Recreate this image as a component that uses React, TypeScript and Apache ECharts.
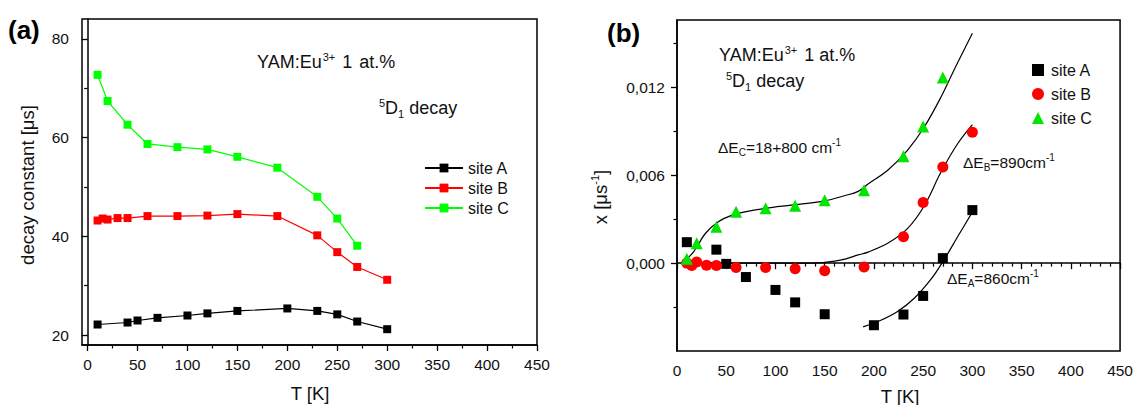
import React, { useEffect, useRef } from 'react';
import * as echarts from 'echarts';

// ---------- Panel (a): decay constants ----------
const tA = [10, 40, 50, 70, 100, 120, 150, 200, 230, 250, 270, 300];
const decayA = [22.15, 22.55, 22.96, 23.5, 23.97, 24.4, 24.9, 25.4, 24.9, 24.2, 22.75, 21.2];
const tB = [10, 15, 20, 30, 40, 60, 90, 120, 150, 190, 230, 250, 270, 300];
const decayB = [43.2, 43.6, 43.4, 43.7, 43.7, 44.1, 44.1, 44.2, 44.5, 44.1, 40.2, 36.8, 33.8, 31.2];
const tC = [10, 20, 40, 60, 90, 120, 150, 190, 230, 250, 270];
const decayC = [72.7, 67.4, 62.6, 58.7, 58.06, 57.6, 56.1, 53.9, 48.0, 43.6, 38.1];

const aXTicks = [0, 50, 100, 150, 200, 250, 300, 350, 400, 450];
const aXMinor = [25, 75, 125, 175, 225, 275, 325, 375, 425];
const aYTicks = [20, 40, 60, 80];
const aYMinor = [30, 50, 70];

// ---------- Panel (b): x values ----------
const xTA = [10, 40, 50, 70, 100, 120, 150, 200, 230, 250, 270, 300];
const xA = [0.00143, 0.00092, -0.00005, -0.00095, -0.00183, -0.00268, -0.00349, -0.00424, -0.00351, -0.00224, 0.00034, 0.00362];
const xTB = [10, 15, 20, 30, 40, 60, 90, 120, 150, 190, 230, 250, 270, 300];
const xB = [0, -0.00016, 0.00007, -0.00014, -0.00016, -0.0003, -0.0003, -0.00039, -0.00052, -0.00027, 0.0018, 0.00414, 0.00656, 0.00894];
const xTC = [10, 20, 40, 60, 90, 120, 150, 190, 230, 250, 270];
const xC = [0.0003, 0.00136, 0.00249, 0.0035, 0.00374, 0.00391, 0.0043, 0.00498, 0.00729, 0.00933, 0.01268];

// fitted curves
const fitTC = [6, 17, 29, 42, 56, 69, 90, 116, 150, 170, 184, 194, 214, 234, 251, 268, 281, 291, 300];
const fitC = [0, 0.00079, 0.00204, 0.00283, 0.00328, 0.0035, 0.00374, 0.00396, 0.00425, 0.0046, 0.0049, 0.0054, 0.00634, 0.0077, 0.00928, 0.01132, 0.01313, 0.01449, 0.01569];
const fitTB = [6, 60, 100, 143, 167, 184, 194, 214, 234, 251, 268, 285, 300];
const fitB = [0, 0, 0, 0.00002, 0.00022, 0.00056, 0.00075, 0.00135, 0.00235, 0.0039, 0.0062, 0.00815, 0.00946];
const fitTA = [189, 207, 224, 241, 258, 270, 285, 301];
const fitA = [-0.00435, -0.0039, -0.0033, -0.0024, -0.0011, 0.0001, 0.0018, 0.0036];

const bYTicks = [0, 0.006, 0.012];
const bYMinor = [-0.003, 0.003, 0.009, 0.015];

const FONT = '"Liberation Sans", Arial, sans-serif';
const TXT = '#111';

const pairs = (xs: number[], ys: number[]) => xs.map((x, i) => [x, ys[i]]);

export default function App() {
  const ref = useRef<HTMLDivElement>(null);
  useEffect(() => {
    if (!ref.current) return;
    const chart = echarts.init(ref.current, undefined, { renderer: 'svg' });
    const axisLine = { show: true, lineStyle: { color: '#000', width: 1.5 } };
    const label = { color: TXT, fontFamily: FONT, fontSize: 15.5 };
    const majorTick = (vals: number[]) => ({ show: true, customValues: vals, length: 6, lineStyle: { color: '#000', width: 1.3 } });
    const minorTick = (vals: number[]) => ({ show: true, customValues: vals, length: 3.5, lineStyle: { color: '#000', width: 1.2 } });

    const mainT = { fontSize: 18, fontFamily: FONT, color: TXT, lineHeight: 22 };
    const supT = { fontSize: 11, fontFamily: FONT, color: TXT, lineHeight: 11, verticalAlign: 'top' };
    const subT = { fontSize: 11, fontFamily: FONT, color: TXT, lineHeight: 11, verticalAlign: 'bottom' };
    const mainS = { fontSize: 15.5, fontFamily: FONT, color: TXT, lineHeight: 20 };
    const supS = { fontSize: 10, fontFamily: FONT, color: TXT, lineHeight: 10, verticalAlign: 'top' };
    const subS = { fontSize: 10, fontFamily: FONT, color: TXT, lineHeight: 10, verticalAlign: 'bottom' };
    const richBig = {
      n: mainT, p: supT, b: subT,
      q: { ...supT, padding: [0, 2, 0, 1] },
      o: { ...mainT, padding: [0, 2, 0, 0] },
    };
    const richSmall = { n: mainS, p: supS, b: subS };

    const txt = (x: number, y: number, text: string, rich: any, extra: any = {}) => ({
      type: 'text',
      x,
      y,
      ...extra,
      style: { text, rich, fill: TXT, font: `18px ${FONT}`, textAlign: extra.align || 'left', verticalAlign: 'middle' },
    });

    const fitLine = (name: string, xs: number[], ys: number[]) => ({
      name, type: 'line', xAxisIndex: 2, yAxisIndex: 2, data: pairs(xs, ys),
      smooth: 0.35, showSymbol: false, symbol: 'none',
      lineStyle: { color: '#000', width: 1.2 }, z: 1,
    });

    const option: any = {
      animation: false,
      backgroundColor: '#fff',
      grid: [
        { left: 82, top: 19, width: 455, height: 326, show: true, borderColor: '#000', borderWidth: 1.5 },
        { left: 677, top: 20, width: 447, height: 331, show: true, borderColor: '#000', borderWidth: 1.5 },
      ],
      xAxis: [
        {
          gridIndex: 0, type: 'value', min: -5.6, max: 450, position: 'bottom',
          axisLine, axisTick: majorTick(aXTicks),
          axisLabel: { ...label, customValues: aXTicks, margin: 11 },
          splitLine: { show: false },
        },
        {
          gridIndex: 0, type: 'value', min: -5.6, max: 450, position: 'bottom',
          axisLine: { show: false }, axisTick: minorTick(aXMinor),
          axisLabel: { show: false }, splitLine: { show: false },
        },
        {
          gridIndex: 1, type: 'value', min: 0, max: 450, interval: 50, position: 'bottom',
          axisLine, axisTick: { show: true, length: 6, lineStyle: { color: '#000', width: 1.3 } },
          minorTick: { show: true, splitNumber: 5, length: 3.5, lineStyle: { color: '#000', width: 1.2 } },
          axisLabel: { ...label, margin: 11 },
          splitLine: { show: false },
        },
      ],
      yAxis: [
        {
          gridIndex: 0, type: 'value', min: 18, max: 84, position: 'left',
          axisLine, axisTick: majorTick(aYTicks),
          axisLabel: { ...label, customValues: aYTicks, margin: 13 },
          splitLine: { show: false },
        },
        {
          gridIndex: 0, type: 'value', min: 18, max: 84, position: 'left',
          axisLine: { show: false }, axisTick: minorTick(aYMinor),
          axisLabel: { show: false }, splitLine: { show: false },
        },
        {
          gridIndex: 1, type: 'value', min: -0.006, max: 0.0166, position: 'left',
          axisLine, axisTick: majorTick(bYTicks),
          axisLabel: {
            ...label, customValues: bYTicks, margin: 12,
            formatter: (v: number) => Math.abs(v).toFixed(3).replace('.', ','),
          },
          splitLine: { show: false },
        },
        {
          gridIndex: 1, type: 'value', min: -0.006, max: 0.0166, position: 'left',
          axisLine: { show: false }, axisTick: minorTick(bYMinor),
          axisLabel: { show: false }, splitLine: { show: false },
        },
      ],
      legend: [
        {
          data: ['a:site A', 'a:site B', 'a:site C'],
          orient: 'vertical', left: 419, top: 155,
          itemWidth: 38, itemHeight: 11, itemGap: 4,
          selectedMode: false,
          formatter: (n: string) => n.slice(2),
          textStyle: { fontSize: 16, fontFamily: FONT, color: TXT, lineHeight: 16 },
        },
        {
          data: ['b:site A', 'b:site B', 'b:site C'],
          orient: 'vertical', left: 1027, top: 57,
          itemWidth: 12, itemHeight: 12, itemGap: 8,
          selectedMode: false,
          formatter: (n: string) => n.slice(2),
          textStyle: { fontSize: 16, fontFamily: FONT, color: TXT, lineHeight: 12, padding: [0, 0, 0, 2] },
        },
      ],
      series: [
        {
          name: 'a:site A', type: 'line', xAxisIndex: 0, yAxisIndex: 0, data: pairs(tA, decayA),
          symbol: 'rect', symbolSize: 8, lineStyle: { color: '#000', width: 1.2 }, itemStyle: { color: '#000' },
        },
        {
          name: 'a:site B', type: 'line', xAxisIndex: 0, yAxisIndex: 0, data: pairs(tB, decayB),
          symbol: 'rect', symbolSize: 8, lineStyle: { color: '#ff0000', width: 1.2 }, itemStyle: { color: '#ff0000' },
        },
        {
          name: 'a:site C', type: 'line', xAxisIndex: 0, yAxisIndex: 0, data: pairs(tC, decayC),
          symbol: 'rect', symbolSize: 8, lineStyle: { color: '#00ff00', width: 1.2 }, itemStyle: { color: '#00ff00' },
        },
        fitLine('fitC', fitTC, fitC),
        fitLine('fitB', fitTB, fitB),
        fitLine('fitA', fitTA, fitA),
        {
          name: 'b:site A', type: 'scatter', xAxisIndex: 2, yAxisIndex: 2, data: pairs(xTA, xA),
          symbol: 'rect', symbolSize: 10, itemStyle: { color: '#000', opacity: 1 }, z: 3,
        },
        {
          name: 'b:site B', type: 'scatter', xAxisIndex: 2, yAxisIndex: 2, data: pairs(xTB, xB),
          symbol: 'circle', symbolSize: 11, itemStyle: { color: '#ff0000', opacity: 1 }, z: 3,
        },
        {
          name: 'b:site C', type: 'scatter', xAxisIndex: 2, yAxisIndex: 2, data: pairs(xTC, xC),
          symbol: 'triangle', symbolSize: 12, itemStyle: { color: '#00e600', opacity: 1 }, z: 3,
        },
      ],
      graphic: [
        { type: 'text', x: 8, y: 30, style: { text: '(a)', fill: '#000', font: `bold 26px ${FONT}`, verticalAlign: 'middle' } },
        { type: 'text', x: 607, y: 33, style: { text: '(b)', fill: '#000', font: `bold 26px ${FONT}`, verticalAlign: 'middle' } },
        txt(257, 62, '{n|YAM:Eu}{q|3+}{o| 1}{n| at.%}', richBig),
        txt(379, 108, '{p|5}{n|D}{b|1}{n| decay}', richBig),
        txt(719, 55, '{n|YAM:Eu}{q|3+}{n| 1}{n| at.%}', richBig),
        txt(726, 81, '{p|5}{n|D}{b|1}{n| decay}', richBig),
        txt(718, 147, '{n|ΔE}{b|C}{n|=18+800 cm}{p|-1}', richSmall),
        txt(963, 162, '{n|ΔE}{b|B}{n|=890cm}{p|-1}', richSmall),
        txt(947, 278, '{n|ΔE}{b|A}{n|=860cm}{p|-1}', richSmall),
        txt(27, 185, '{n|decay constant [μs]}', { n: { ...mainT, fontSize: 18.5 } }, { rotation: Math.PI / 2, align: 'center' }),
        txt(600, 197, '{n|x [μs}{p|-1}{n|]}', { n: { ...mainT, fontSize: 18.5 }, p: supT }, { rotation: Math.PI / 2, align: 'center' }),
        txt(310, 393, '{n|T [K]}', { n: { ...mainT, fontSize: 18.5 } }, { align: 'center' }),
        txt(900, 396, '{n|T [K]}', { n: { ...mainT, fontSize: 18.5 } }, { align: 'center' }),
      ],
    };
    chart.setOption(option);
    return () => chart.dispose();
  }, []);
  return <div ref={ref} style={{ width: 1136, height: 405, position: 'absolute', left: 0, top: 0 }} />;
}
